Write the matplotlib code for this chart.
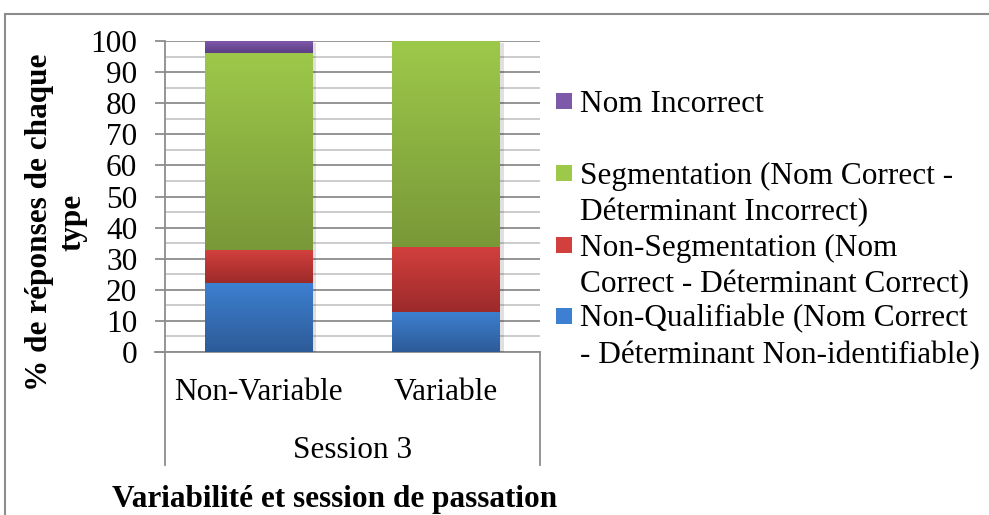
import numpy as np
import matplotlib
matplotlib.use("Agg")
import matplotlib.pyplot as plt
from matplotlib.colors import LinearSegmentedColormap
from matplotlib.patches import Rectangle
from matplotlib import patheffects as pe

categories = ['Non-Variable', 'Variable']
session_label = 'Session 3'

non_qualifiable = [22.3, 13.0]
non_segmentation = [10.5, 20.9]
segmentation = [63.4, 66.1]
nom_incorrect = [3.8, 0.0]

series_labels = [
    'Non-Qualifiable (Nom Correct\n- Déterminant Non-identifiable)',
    'Non-Segmentation (Nom\nCorrect - Déterminant Correct)',
    'Segmentation (Nom Correct -\nDéterminant Incorrect)',
    'Nom Incorrect',
]
series_values = [non_qualifiable, non_segmentation, segmentation, nom_incorrect]
# (top, bottom) colours of each gradient
series_colors = [
    ('#3d80d1', '#2d5b98'),
    ('#d2403d', '#9c2a2a'),
    ('#9dc94a', '#799838'),
    ('#7f59a9', '#5c3f84'),
]

W, H = 989, 515
plt.rcParams['font.family'] = ['Liberation Serif', 'DejaVu Serif']
fig = plt.figure(figsize=(W / 100, H / 100), dpi=100)


def fx(px):
    return px / W


def fy(py):
    return 1 - py / H


ax = fig.add_axes([fx(165), fy(352), fx(540) - fx(165), fy(41) - fy(352)])

x = np.arange(len(categories))
width = 0.576
bottom = np.zeros(len(categories))
for vals, (top_c, bot_c) in zip(series_values, series_colors):
    bars = ax.bar(x, vals, width, bottom=bottom, color=bot_c, linewidth=0, zorder=3)
    cmap = LinearSegmentedColormap.from_list('g', [bot_c, top_c])
    grad = np.linspace(0, 1, 256).reshape(-1, 1)
    for rect in bars:
        if rect.get_height() <= 0:
            continue
        rect.set_path_effects([pe.SimplePatchShadow(offset=(2.5, -1.5), shadow_rgbFace='k', alpha=0.12),
                               pe.Normal()])
        x0, y0 = rect.get_x(), rect.get_y()
        im = ax.imshow(grad, extent=[x0, x0 + rect.get_width(), y0, y0 + rect.get_height()],
                       origin='lower', cmap=cmap, aspect='auto', zorder=4, interpolation='bilinear')
        im.set_clip_path(rect)
    bottom += np.array(vals)

ax.set_xlim(-0.5, 1.5)
ax.set_ylim(0, 100)
ax.set_aspect('auto')

ax.set_yticks(range(0, 101, 10))
ax.set_yticks(range(5, 100, 10), minor=True)
ax.yaxis.grid(True, which='major', color='#8c8c8c', linewidth=1.3, zorder=0)
ax.yaxis.grid(True, which='minor', color='#c4c4c4', linewidth=1.2, zorder=0)
ax.set_axisbelow(True)
ax.tick_params(axis='y', which='major', direction='out', length=7, width=1.3, color='#8c8c8c',
               pad=13, labelsize=22.5)
ax.tick_params(axis='y', which='minor', length=0)
ax.set_xticks(x)
ax.set_xticklabels(categories)
ax.tick_params(axis='x', length=0, pad=18.5, labelsize=22.5)

for side in ['top', 'right']:
    ax.spines[side].set_visible(False)
for side in ['left', 'bottom']:
    ax.spines[side].set_color('#8c8c8c')
    ax.spines[side].set_linewidth(1.3)
# x axis line runs out left past the spine like a tick
ax.plot([-0.5 - 10 / 187.5, -0.5], [0, 0], color='#8c8c8c', lw=1.3, clip_on=False)

# group separators and session label under the axis
for xs in [0, 1]:
    ax.plot([xs, xs], [0, -0.363], transform=ax.transAxes, color='#8c8c8c', lw=1.3, clip_on=False)
ax.text(0.5, -0.318, session_label, transform=ax.transAxes, ha='center', va='center', fontsize=22.5)

fig.text(fx(335), fy(500), 'Variabilité et session de passation', ha='center', va='center',
         fontsize=22.5, fontweight='bold')
fig.text(fx(56), fy(222), '% de réponses de chaque\ntype', ha='center', va='center', rotation=90,
         fontsize=22.5, fontweight='bold', multialignment='center', linespacing=1.2)

# legend, top entry first
legend_rows = [101, 173, 245, 316]
for label, (top_c, bot_c), row in zip(series_labels[::-1], series_colors[::-1], legend_rows):
    sq = 16
    fig.patches.append(Rectangle((fx(556), fy(row + sq / 2)), sq / W, sq / H, transform=fig.transFigure,
                                 facecolor=top_c, edgecolor='none'))
    for i, line in enumerate(label.split('\n')):
        fig.text(fx(580), fy(row + 3 + i * 37), line, ha='left', va='center', fontsize=22.5)

# chart frame
fig.patches.append(Rectangle((fx(5), fy(600)), 2, fy(14) - fy(600), transform=fig.transFigure,
                             facecolor='none', edgecolor='#8c8c8c', linewidth=1.5))

fig.savefig('out.png', dpi=100)
